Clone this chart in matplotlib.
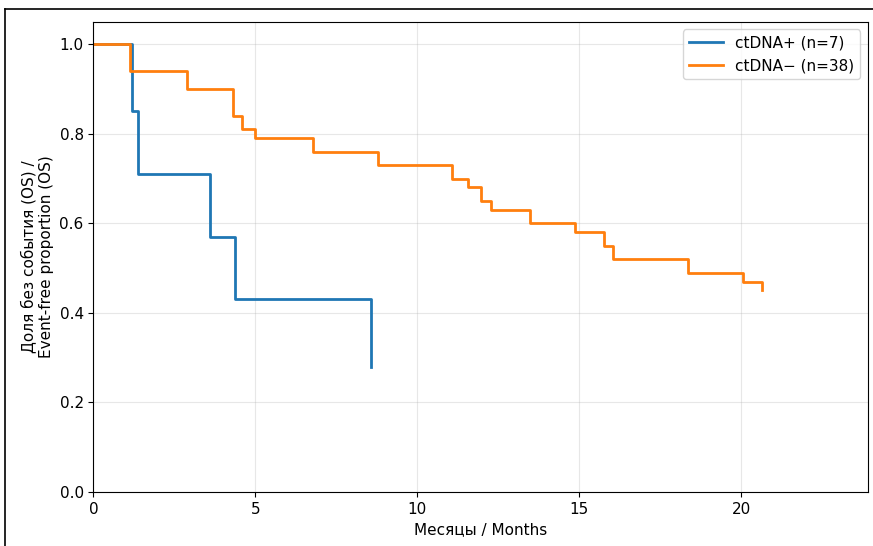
import matplotlib
matplotlib.use("Agg")
import matplotlib.pyplot as plt
from matplotlib.lines import Line2D

# Kaplan-Meier step data (time in months, survival proportion)
pos_label = "ctDNA+ (n=7)"
pos_times = [0, 1.19, 1.39, 3.60, 4.37, 8.57]
pos_surv = [1.0, 0.85, 0.71, 0.57, 0.43, 0.28]

neg_label = "ctDNA\u2212 (n=38)"
neg_times = [0, 1.13, 2.88, 4.30, 4.59, 4.99, 6.79, 8.79, 11.06, 11.57,
             11.97, 12.27, 13.48, 14.87, 15.76, 16.05, 18.35, 20.04, 20.63]
neg_surv = [1.0, 0.94, 0.90, 0.84, 0.81, 0.79, 0.76, 0.73, 0.70, 0.68,
            0.65, 0.63, 0.60, 0.58, 0.55, 0.52, 0.49, 0.47, 0.45]

x_label = "Месяцы / Months"
y_label = "Доля без события (OS) /\nEvent-free proportion (OS)"


def km_path(times, surv):
    # build the step path so the last drop is drawn as a vertical line
    xs, ys = [times[0]], [surv[0]]
    for i in range(1, len(times)):
        xs += [times[i], times[i]]
        ys += [surv[i - 1], surv[i]]
    return xs, ys


plt.rcParams["font.size"] = 11

fig = plt.figure(figsize=(8.73, 5.46), dpi=100)
ax = fig.add_axes([0.107, 0.099, 0.887, 0.861])

x, y = km_path(pos_times, pos_surv)
ax.plot(x, y, color="#1f77b4", linewidth=2.0, label=pos_label)
x, y = km_path(neg_times, neg_surv)
ax.plot(x, y, color="#ff7f0e", linewidth=2.0, label=neg_label)

ax.set_xlim(0, 23.9)
ax.set_ylim(0, 1.05)
ax.set_xticks([0, 5, 10, 15, 20])
ax.set_yticks([0.0, 0.2, 0.4, 0.6, 0.8, 1.0])
ax.grid(True, alpha=0.3)
ax.set_xlabel(x_label)
ax.set_ylabel(y_label)
ax.legend(loc="upper right", handlelength=2.2)

# outer screenshot frame
fig.add_artist(Line2D([5 / 873, 5 / 873], [0, 1 - 9 / 546], transform=fig.transFigure,
                      color="black", linewidth=1.2))
fig.add_artist(Line2D([5 / 873, 1], [1 - 9 / 546, 1 - 9 / 546], transform=fig.transFigure,
                      color="black", linewidth=1.2))

fig.savefig("out.png", dpi=100)
plt.close()
